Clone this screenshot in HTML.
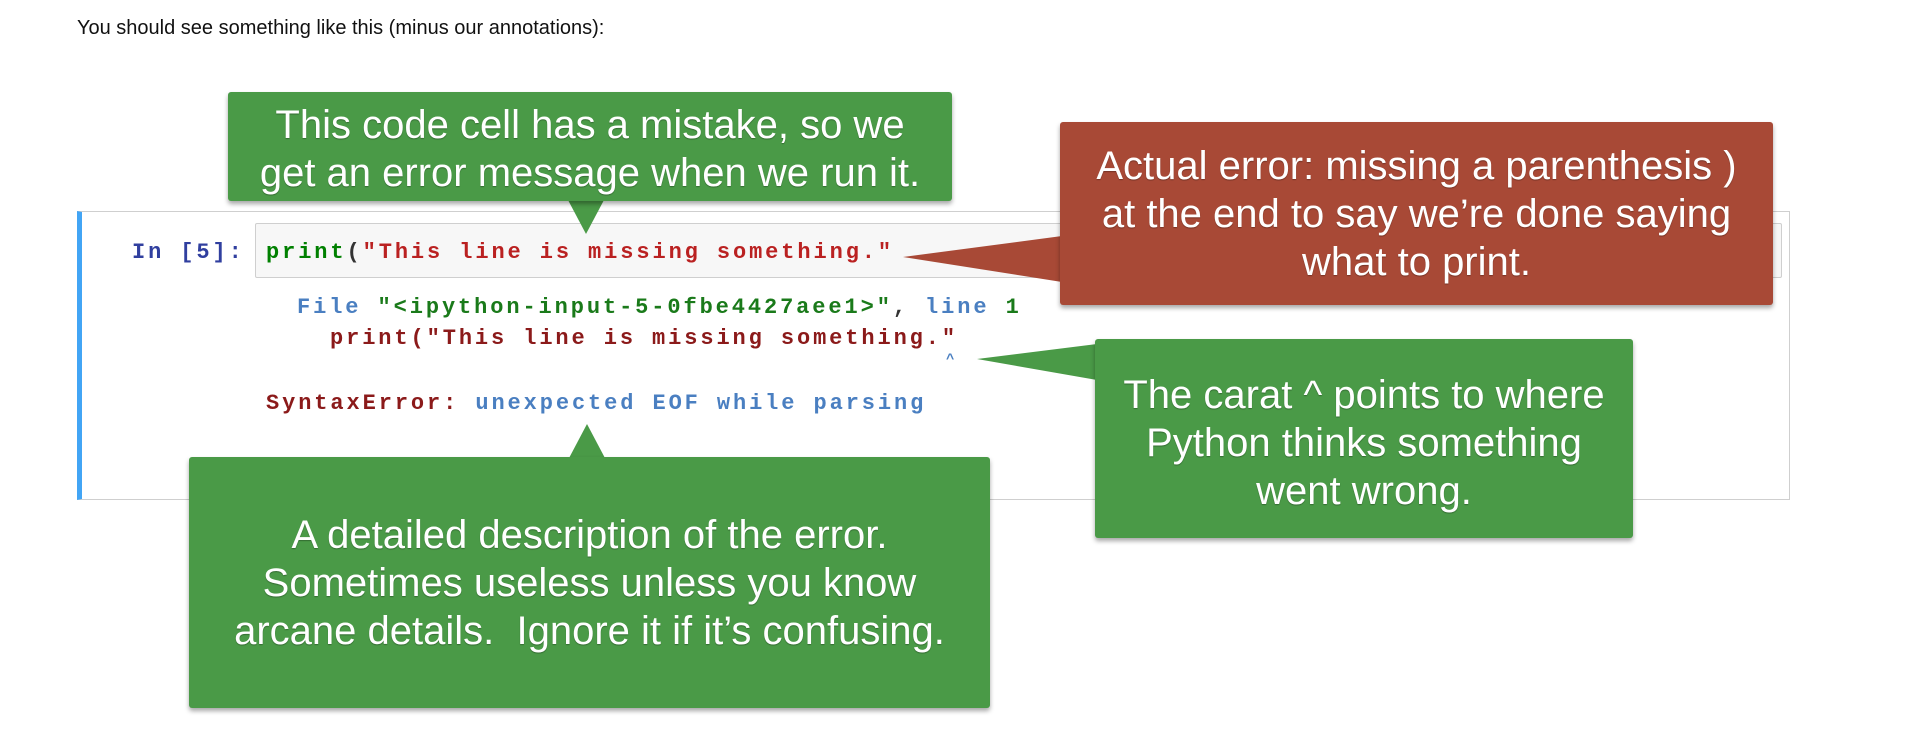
<!DOCTYPE html>
<html><head><meta charset="utf-8"><style>
body{margin:0;width:1914px;height:750px;background:#fff;position:relative;overflow:hidden;font-family:"Liberation Sans",sans-serif}
.abs{position:absolute}
.hdr{left:77px;top:17px;font-size:20px;color:#111}
.cell{left:77px;top:211px;width:1713px;height:289px;border:1px solid #cfcfcf;border-left:5px solid #42a5f5;box-sizing:border-box}
.inp{left:255px;top:223px;width:1527px;height:55px;background:#f7f7f7;border:1px solid #cfcfcf;border-radius:2px;box-sizing:border-box}
.mono{font-family:"Liberation Mono",monospace;font-size:22px;letter-spacing:2.9px;white-space:pre;font-weight:bold}
.box{position:absolute;color:#fff;text-align:center;box-shadow:0 3px 5px rgba(0,0,0,.35);border-radius:3px;text-shadow:0 1px 1px rgba(0,0,0,.3);white-space:nowrap}
.g{background:#4a9a47}.r{background:#a84936}
.t{font-size:40px;line-height:48px}
</style></head><body>
<div class="abs hdr">You should see something like this (minus our annotations):</div>
<div class="abs cell"></div>
<div class="abs inp"></div>
<div class="abs mono" style="left:132px;top:240px;color:#303f9f">In [5]:</div>
<div class="abs mono" style="left:266px;top:240px"><span style="color:#008000">print</span><span style="color:#333">(</span><span style="color:#ba2121">"This line is missing something."</span></div>
<div class="abs mono" style="left:297px;top:295px"><span style="color:#4a7fc1">File</span> <span style="color:#1a7a1a">"&lt;ipython-input-5-0fbe4427aee1&gt;"</span><span style="color:#333">,</span> <span style="color:#4a7fc1">line</span> <span style="color:#1a7a1a">1</span></div>
<div class="abs mono" style="left:330px;top:326px;color:#8b1a1a">print("This line is missing something."</div>
<div class="abs mono" style="left:946px;top:352px;color:#4a7fc1;font-size:14px">^</div>
<div class="abs mono" style="left:266px;top:391px"><span style="color:#8b1a1a">SyntaxError:</span> <span style="color:#4a7fc1">unexpected EOF while parsing</span></div>

<svg class="abs" style="left:0;top:0" width="1914" height="750">
<polygon points="568,200 604,200 586,234" fill="#4a9a47"/>
<polygon points="1062,236 1062,282 903,257" fill="#a84936"/>
<polygon points="1097,344 1097,380 977,359" fill="#4a9a47"/>
<polygon points="568,460 606,460 587,424" fill="#4a9a47"/>
</svg>
<div class="box g t" style="left:228px;top:92px;width:724px;height:109px;padding-top:9px;box-sizing:border-box">This code cell has a mistake, so we<br>get an error message when we run it.</div>
<div class="box r t" style="left:1060px;top:122px;width:713px;height:183px;padding-top:20px;box-sizing:border-box">Actual error: missing a parenthesis )<br>at the end to say we’re done saying<br>what to print.</div>
<div class="box g t" style="left:1095px;top:339px;width:538px;height:199px;padding-top:32px;box-sizing:border-box">The carat ^ points to where<br>Python thinks something<br>went wrong.</div>
<div class="box g t" style="left:189px;top:457px;width:801px;height:251px;padding-top:54px;box-sizing:border-box">A detailed description of the error.<br>Sometimes useless unless you know<br>arcane details.&nbsp; Ignore it if it’s confusing.</div>
</body></html>
